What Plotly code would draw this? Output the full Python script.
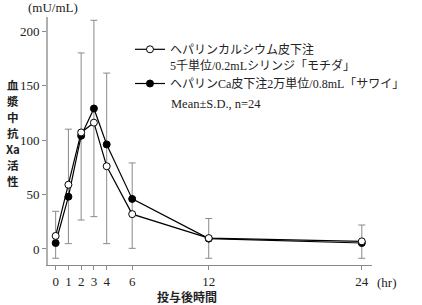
import plotly.graph_objects as go

# ---- data ----
hours = [0, 1, 2, 3, 4, 6, 12, 24]
mochida = [12, 59, 107, 116, 76, 32, 10, 7]          # open circles
sawai = [5.5, 48, 104, 129, 96, 46, 9.5, 5.5]        # filled circles
bar_top = [34.6, 110, 180, 210, 161.5, 79, 28, 22]   # upper end of S.D. bars
bar_bottom = [-8.5, 4.9, 26.6, 29.7, 4.9, 0.6, -8.5, -8.5]  # lower end of S.D. bars
x_ticks = [0, 1, 2, 3, 4, 6, 12, 24]
y_ticks = [0, 50, 100, 150, 200]
y_title_chars = ["血", "漿", "中", "抗", "Xa", "活", "性"]

name_mochida = "ヘパリンカルシウム皮下注<br>5千単位/0.2mLシリンジ「モチダ」"
name_sawai = "ヘパリンCa皮下注2万単位/0.8mL「サワイ」"

SERIF = "Liberation Serif, Noto Sans CJK JP"
CJK = "Noto Sans CJK JP"

err_plus = [t - m for t, m in zip(bar_top, mochida)]
err_minus = [m - b for m, b in zip(mochida, bar_bottom)]

fig = go.Figure()

# error bars (drawn first, beneath the lines)
fig.add_trace(go.Scatter(
    x=hours, y=mochida, mode="markers", showlegend=False, hoverinfo="skip",
    marker=dict(size=1, opacity=0),
    error_y=dict(type="data", symmetric=False, array=err_plus, arrayminus=err_minus,
                 color="#8a8a8a", thickness=1, width=3.5),
))

fig.add_trace(go.Scatter(
    x=hours, y=sawai, mode="lines+markers", name=name_sawai, legendrank=2,
    line=dict(color="black", width=1.2),
    marker=dict(symbol="circle", size=7, color="black", line=dict(color="black", width=1)),
))
fig.add_trace(go.Scatter(
    x=hours, y=mochida, mode="lines+markers", name=name_mochida, legendrank=1,
    line=dict(color="black", width=1.2),
    marker=dict(symbol="circle", size=7, color="white", line=dict(color="black", width=1)),
))

W_PLOT = 422 - 48 - 42
H_PLOT = 305 - 17 - 40


def px(xp):
    return (xp - 48) / W_PLOT


def py(yp):
    return (265 - yp) / H_PLOT


annotations = [
    dict(text="(mU/mL)", x=px(25), y=py(8), xref="paper", yref="paper",
         showarrow=False, font=dict(family="Liberation Serif", size=13, color="#222"),
         xanchor="left", yanchor="middle"),
    dict(text="(hr)", x=px(383), y=py(282), xref="paper", yref="paper",
         showarrow=False, font=dict(family="Liberation Serif", size=13, color="#222"),
         xanchor="left", yanchor="middle"),
    dict(text="<b>投与後時間</b>", x=px(190), y=py(296), xref="paper", yref="paper",
         showarrow=False, font=dict(family=CJK, size=12, color="#222"),
         xanchor="center", yanchor="middle"),
    dict(text="Mean±S.D., n=24", x=px(172), y=py(104), xref="paper", yref="paper",
         showarrow=False, font=dict(family="Liberation Serif", size=12.5, color="#222"),
         xanchor="left", yanchor="middle"),
]
for i, ch in enumerate(y_title_chars):
    annotations.append(dict(
        text=f"<b>{ch}</b>", x=px(12), y=py(85 + 16 * i), xref="paper", yref="paper",
        showarrow=False, font=dict(family=CJK, size=11.5, color="#222"),
        xanchor="center", yanchor="middle", borderpad=0,
    ))

fig.update_layout(
    template="none",
    width=422, height=305,
    margin=dict(l=48, r=42, t=17, b=40, pad=0),
    paper_bgcolor="white", plot_bgcolor="white",
    font=dict(family=SERIF, size=12, color="#222"),
    legend=dict(
        x=px(132), y=py(35), xanchor="left", yanchor="top",
        bgcolor="rgba(0,0,0,0)", borderwidth=0,
        font=dict(family=SERIF, size=12, color="#222"),
        itemwidth=30, valign="top", tracegroupgap=7,
        traceorder="normal",
    ),
    xaxis=dict(
        range=[-0.6, 24.8], tickvals=x_ticks, ticktext=[str(v) for v in x_ticks],
        showgrid=False, zeroline=False, automargin=False,
        showline=True, linecolor="#8a8a8a", linewidth=1,
        ticks="outside", ticklen=4, tickcolor="#8a8a8a", tickwidth=1,
        tickfont=dict(family="Liberation Serif", size=13, color="#222"),
    ),
    yaxis=dict(
        range=[-14.7, 213], tickvals=y_ticks,
        showgrid=False, zeroline=False, automargin=False,
        showline=True, linecolor="#b0b0b0", linewidth=2,
        ticks="outside", ticklen=4, tickcolor="#8a8a8a", tickwidth=1,
        tickfont=dict(family="Liberation Serif", size=13, color="#222"),
    ),
    annotations=annotations,
)

fig.write_html("out.html")
